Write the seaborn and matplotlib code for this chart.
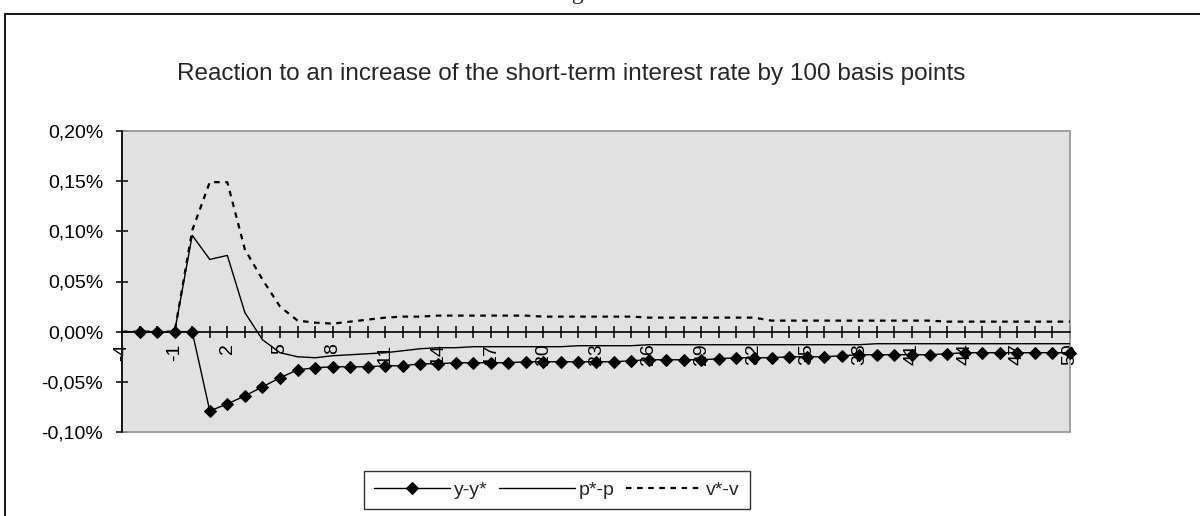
import numpy as np
import pandas as pd
import matplotlib
matplotlib.use("Agg")
import matplotlib.pyplot as plt
import seaborn as sns
from matplotlib.patches import Rectangle
from matplotlib.ticker import FuncFormatter

# quarters after the shock
periods = list(range(-4, 51))

# responses in percent
y_gap = [np.nan, 0, 0, 0, 0,
         -0.079, -0.072, -0.064, -0.055, -0.046, -0.038, -0.036, -0.035, -0.035, -0.035,
         -0.034, -0.034, -0.032, -0.032, -0.031, -0.031, -0.031, -0.031, -0.030, -0.030,
         -0.030, -0.030, -0.030, -0.030, -0.029, -0.028, -0.028, -0.028, -0.028, -0.027,
         -0.026, -0.026, -0.026, -0.025, -0.025, -0.025, -0.024, -0.023, -0.023, -0.023,
         -0.023, -0.023, -0.022, -0.021, -0.021, -0.021, -0.021, -0.021, -0.021, -0.021]

p_gap = [0, 0, 0, 0, 0.096, 0.072, 0.076, 0.019, -0.008, -0.021,
         -0.025, -0.026, -0.024, -0.023, -0.022, -0.021, -0.019, -0.017, -0.016, -0.016,
         -0.015, -0.015, -0.015, -0.015, -0.015, -0.015, -0.014, -0.014, -0.014, -0.014] \
        + [-0.013] * 13 + [-0.012] * 12

v_gap = [0, 0, 0, 0, 0.101, 0.149, 0.149, 0.082, 0.052, 0.025,
         0.011, 0.009, 0.008, 0.010, 0.012, 0.014, 0.015, 0.015] \
        + [0.016] * 6 + [0.015] * 6 + [0.014] * 7 + [0.011] * 10 + [0.010] * 8

tick_every = 3

sns.set_theme(style="white")
plt.rcParams['font.family'] = ['Liberation Sans', 'DejaVu Sans']

fig = plt.figure(figsize=(12, 5.16), dpi=100)
ax = fig.add_axes([122 / 1200, 1 - 432 / 516, 948 / 1200, 301 / 516])
ax.set_facecolor('#e1e1e1')

sns.lineplot(x=periods, y=y_gap, ax=ax, color='black', lw=1.0, marker='D',
             markersize=6.5, markeredgecolor='black', label='y-y*', clip_on=False, zorder=4)
sns.lineplot(x=periods, y=p_gap, ax=ax, color='black', lw=1.0, label='p*-p', zorder=3)
sns.lineplot(x=periods, y=v_gap, ax=ax, color='black', lw=1.6, linestyle=(0, (2.5, 2.5)),
             label='v*-v', zorder=3)

ax.set_xlim(-4, 50)
ax.set_ylim(-0.10, 0.20)

# x axis crosses at zero
for side in ['top', 'right']:
    ax.spines[side].set_visible(False)
ax.spines['bottom'].set_position(('data', 0))
ax.spines['bottom'].set_color('black')
ax.spines['bottom'].set_linewidth(1.2)
ax.spines['left'].set_color('black')
ax.spines['left'].set_linewidth(1.2)
ax.add_patch(Rectangle((0, 0), 1, 1, transform=ax.transAxes, fill=False,
                       ec='#999999', lw=1.3, zorder=1, clip_on=False))

ax.set_xticks(periods)
ax.set_xticklabels([str(p) if (p + 4) % tick_every == 0 else '' for p in periods],
                   rotation=90, fontsize=14)
ax.set_yticks([-0.10, -0.05, 0.0, 0.05, 0.10, 0.15, 0.20])
ax.yaxis.set_major_formatter(FuncFormatter(lambda v, _: f"{v:.2f}%".replace('.', ',')))
ax.tick_params(axis='both', direction='inout', length=9, width=1.1, color='black',
               bottom=True, left=True, labelsize=14, labelcolor='black')
ax.tick_params(axis='x', pad=4)
ax.tick_params(axis='y', pad=9)
for lab in ax.get_xticklabels():
    lab.set_va('top')
ax.set_xlabel('')
ax.set_ylabel('')

handles, labels = ax.get_legend_handles_labels()
ax.get_legend().remove()
leg = fig.legend(handles, labels, loc='center', bbox_to_anchor=(557 / 1200, 1 - 490 / 516),
                 ncol=3, fontsize=14, frameon=True, fancybox=False, edgecolor='black',
                 handlelength=3.9, columnspacing=0.6, handletextpad=0.2,
                 borderpad=0.5, numpoints=1)
leg.get_frame().set_linewidth(1.0)

fig.text(571 / 1200, 1 - 80 / 516,
         'Reaction to an increase of the short-term interest rate by 100 basis points',
         ha='center', va='baseline', fontsize=17.5)

# outer chart frame and the caption above it, cut off by the page edge
fig.add_artist(Rectangle((5 / 1200, -0.5), 2, 0.5 + 1 - 14 / 516, transform=fig.transFigure,
                         fill=False, ec='black', lw=1.3))
fig.text(592 / 1200, 1 + 0.5 / 516, 'Figure 4', ha='center', va='baseline', fontsize=17,
         family=['Liberation Serif', 'DejaVu Serif'])

fig.savefig('out.png', dpi=100)
